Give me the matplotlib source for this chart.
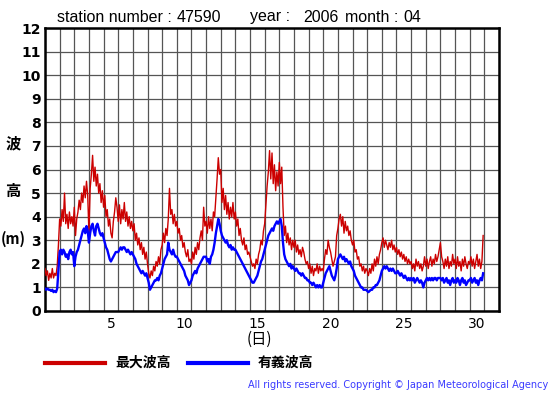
import numpy as np
import matplotlib
matplotlib.use("Agg")
import matplotlib.pyplot as plt

# ---- data (2-hourly values, April 2006, station 47590) ----
max_wave = [
    1.8, 1.5, 1.7, 1.3, 1.6, 1.4, 1.8, 1.4, 1.6, 1.5, 1.9, 2.8,
    3.9, 3.6, 4.3, 3.8, 5.0, 3.7, 4.1, 3.5, 4.2, 3.7, 4.0, 3.6,
    4.4, 3.2, 3.9, 4.2, 4.7, 4.3, 5.0, 4.6, 5.3, 4.8, 5.5, 4.9,
    3.3, 5.2, 5.8, 6.6, 5.5, 6.1, 5.3, 5.8, 5.0, 5.4, 4.6, 5.1,
    4.4, 4.9, 4.0, 4.3, 3.6, 3.9, 3.3, 3.1, 3.8, 4.2, 4.8, 4.4,
    3.8, 4.5, 3.7, 4.3, 3.9, 4.6, 3.8, 4.2, 3.6, 4.0, 3.5, 3.8,
    3.4, 3.7, 3.0, 3.3, 2.8, 3.1, 2.6, 2.9, 2.4, 2.7, 2.2, 2.5,
    2.0, 1.6, 1.4, 1.7, 1.5, 1.9, 1.7, 2.1, 1.9, 2.3, 2.0, 2.6,
    2.8, 3.3, 2.9, 3.5, 3.2, 3.9, 5.2, 4.1, 4.3, 3.7, 4.1, 3.6,
    3.8, 3.3, 3.5, 3.0, 3.2, 2.7, 2.9, 2.5, 2.3, 2.6, 2.1, 2.2,
    2.0, 2.5, 2.2, 2.7, 2.4, 2.9, 2.6, 3.1, 3.4, 3.0, 4.4, 3.6,
    3.8, 3.3, 4.0, 3.5, 3.9, 3.4, 4.2, 4.0, 4.8, 5.6, 6.5, 5.8,
    6.0, 4.6, 5.2, 4.3, 4.9, 4.1, 4.6, 3.9, 4.4, 4.0, 4.6, 3.9,
    4.2, 3.6, 3.9, 3.2, 3.5, 3.0, 2.8, 3.1, 2.6, 2.8, 2.4, 2.5,
    2.3, 2.1, 1.9, 2.0, 1.8, 2.2, 2.0, 2.4, 2.6, 3.0, 2.8, 3.4,
    3.7, 4.5, 5.3, 5.9, 6.8, 5.6, 6.7, 5.4, 6.2, 5.1, 5.9, 5.3,
    6.3, 5.4, 6.1, 4.4, 3.2, 3.6, 2.9, 3.3, 2.8, 3.1, 2.6, 3.0,
    2.7, 3.0, 2.5, 2.8, 2.4, 2.6, 2.3, 2.7, 2.5, 2.2, 2.0, 2.1,
    1.8, 2.0, 1.6, 1.9, 1.5, 1.8, 1.7, 2.0, 1.6, 1.9, 1.7, 1.8,
    1.7, 2.2, 2.6, 2.4, 3.0, 2.7, 2.5, 2.2, 1.9, 2.1, 2.3, 3.2,
    3.5, 3.9, 4.1, 3.6, 4.0, 3.3, 3.8, 3.4, 3.6, 3.2, 3.4, 3.0,
    2.8, 3.0, 2.5, 2.6, 2.2, 2.3, 1.9, 2.0, 1.7, 1.9, 1.6, 1.8,
    1.7, 1.5, 1.8, 1.6, 2.0, 1.7, 2.2, 1.9, 2.3, 2.0, 2.4, 2.6,
    2.9, 3.1, 2.7, 3.0, 2.8, 2.6, 2.9, 2.7, 3.0, 2.6, 2.8, 2.5,
    2.7, 2.4, 2.6, 2.3, 2.5, 2.2, 2.4, 2.1, 2.3, 2.0, 2.2, 2.0,
    2.1, 1.8, 2.0, 1.7, 2.2, 1.9, 2.1, 1.8, 2.0, 1.7, 1.9, 2.3,
    1.9, 2.2, 1.8, 2.1, 2.3, 1.9, 2.2, 2.0, 2.4, 2.1, 2.3, 2.6,
    2.9, 2.3, 2.1, 1.8, 2.2, 1.9, 2.3, 1.8, 2.1, 1.9, 2.4, 2.0,
    2.2, 1.8, 2.3, 1.9, 2.1, 1.7, 2.2, 1.9, 2.3, 2.0, 1.8, 2.1,
    2.0, 2.3, 1.9, 2.2, 1.8, 2.1, 2.4, 1.9, 2.2, 1.8, 2.1, 3.2,
]
sig_wave = [
    0.95, 0.9, 0.95, 0.9, 0.9, 0.85, 0.9, 0.8, 0.85, 0.8, 0.95, 1.7,
    2.5, 2.6, 2.4, 2.6, 2.5, 2.3, 2.4, 2.2, 2.5, 2.6, 2.4, 2.5,
    1.9, 2.3, 2.5, 2.6, 2.8, 3.0, 3.2, 3.4, 3.5, 3.3, 3.6, 3.4,
    2.9, 3.3, 3.6, 3.7, 3.4, 3.2, 3.6, 3.7, 3.5, 3.3, 3.2, 3.3,
    3.1, 2.9, 2.7, 2.6, 2.4, 2.2, 2.1, 2.2, 2.3, 2.4, 2.5, 2.5,
    2.5, 2.6, 2.7, 2.6, 2.7, 2.7, 2.6, 2.5, 2.6, 2.5, 2.4, 2.5,
    2.4, 2.3, 2.2, 2.0, 1.9, 1.8, 1.7, 1.6, 1.7, 1.6, 1.5, 1.6,
    1.4, 1.2, 0.9, 1.0, 1.1, 1.2, 1.3, 1.3, 1.4, 1.3, 1.5, 1.6,
    1.8, 2.0, 2.2, 2.3, 2.4, 2.9, 2.6, 2.5, 2.4, 2.6, 2.4, 2.3,
    2.3, 2.2, 2.1, 2.0, 1.9, 1.8, 1.7, 1.5, 1.4, 1.3, 1.1, 1.2,
    1.3, 1.5, 1.6, 1.7, 1.6, 1.8, 1.9, 2.0, 2.1, 2.2, 2.3, 2.3,
    2.3, 2.1, 2.2, 2.0, 2.3, 2.4, 2.6, 2.9, 3.3, 3.6, 3.9, 3.7,
    3.4, 3.2, 3.1, 3.0, 2.9, 3.0, 2.8, 2.7, 2.8, 2.6, 2.7, 2.6,
    2.6, 2.5, 2.4, 2.3, 2.2, 2.1, 2.0, 1.9, 1.8, 1.7, 1.6, 1.5,
    1.4, 1.3, 1.2, 1.2, 1.3, 1.4, 1.5, 1.7, 1.9, 2.1, 2.2, 2.4,
    2.6, 2.8, 3.0, 3.2, 3.3, 3.4, 3.5, 3.4, 3.6, 3.7, 3.8, 3.7,
    3.8, 3.9, 3.6, 2.9, 2.4, 2.2, 2.1, 2.0, 1.9, 2.0, 1.8, 1.9,
    1.8, 1.7, 1.8, 1.7, 1.6, 1.6, 1.5, 1.6, 1.5, 1.4, 1.4, 1.3,
    1.3, 1.2, 1.2, 1.1, 1.2, 1.1, 1.0, 1.1, 1.0, 1.1, 1.0, 1.0,
    1.2, 1.4, 1.6, 1.7, 1.8, 1.9, 1.7, 1.5, 1.4, 1.3, 1.5, 1.8,
    2.2, 2.3, 2.4, 2.3, 2.2, 2.3, 2.1, 2.2, 2.1, 2.0, 2.1, 1.9,
    1.8, 1.7, 1.5, 1.4, 1.3, 1.2, 1.1, 1.0, 1.0, 0.9, 0.9, 0.9,
    0.85, 0.8, 0.85, 0.9, 0.9, 1.0, 1.0, 1.1, 1.1, 1.2, 1.3, 1.5,
    1.7, 1.8, 1.9, 1.8, 1.9, 1.8, 1.7, 1.8, 1.7, 1.8, 1.7, 1.6,
    1.6, 1.7, 1.6, 1.5, 1.6, 1.5, 1.4, 1.5, 1.4, 1.3, 1.4, 1.3,
    1.4, 1.3, 1.4, 1.2, 1.3, 1.4, 1.3, 1.2, 1.3, 1.2, 1.0, 1.2,
    1.3, 1.4, 1.3, 1.4, 1.3, 1.4, 1.3, 1.4, 1.4, 1.3, 1.4, 1.4,
    1.4, 1.3, 1.4, 1.2, 1.3, 1.4, 1.2, 1.3, 1.1, 1.3, 1.4, 1.2,
    1.3, 1.2, 1.4, 1.3, 1.1, 1.3, 1.4, 1.2, 1.3, 1.1, 1.2, 1.3,
    1.3, 1.4, 1.2, 1.3, 1.4, 1.2, 1.3, 1.1, 1.3, 1.4, 1.3, 1.6,
]
steps_per_day = 12
day_labels = ["5", "10", "15", "20", "25", "30"]
y_labels = [str(v) for v in range(0, 13)]

W, H = 555, 395
fig = plt.figure(figsize=(W / 100, H / 100), dpi=100)
fig.patch.set_facecolor("white")

L, R, T, B = 45, 499, 28, 311
ax = fig.add_axes([L / W, 1 - B / H, (R - L) / W, (B - T) / H])

t = np.arange(len(max_wave)) / steps_per_day
ax.plot(t, max_wave, color="#cc0000", lw=1.0, zorder=3)
ax.plot(t, sig_wave, color="#0000ff", lw=1.7, zorder=4)

ax.set_xlim(0, 31)
ax.set_ylim(0, 12)
ax.set_xticks(np.arange(0, 32))
ax.set_xticklabels([])
ax.set_xticks([int(d) - 0.5 for d in day_labels], minor=True)
ax.set_xticklabels(day_labels, minor=True, fontsize=10, family="DejaVu Sans")
ax.set_yticks(np.arange(0, 13))
ax.set_yticklabels(y_labels, fontsize=10, fontweight="bold", family="DejaVu Sans")
ax.tick_params(axis="both", which="both", length=0)
ax.tick_params(axis="x", which="minor", pad=4)
ax.tick_params(axis="y", pad=3)
ax.grid(True, which="major", color="#555555", lw=0.9)
ax.set_axisbelow(True)
for s in ax.spines.values():
    s.set_linewidth(1.8)
    s.set_color("black")

def px(x, y):
    return x / W, 1 - y / H

cjk = ["Noto Sans CJK JP", "DejaVu Sans"]
sans = ["Liberation Sans", "DejaVu Sans"]

fs_t = 11.5
fig.text(*px(57, 17), "station number :", fontsize=fs_t, family=sans, va="center", ha="left")
fig.text(*px(177, 17), "47590", fontsize=fs_t, family=sans, va="center", ha="left")
fig.text(*px(250, 17), "year :", fontsize=fs_t, family=sans, va="center", ha="left")
fig.text(*px(303, 17), "2006", fontsize=fs_t, family=sans, va="center", ha="left")
fig.text(*px(345, 17), "month :", fontsize=fs_t, family=sans, va="center", ha="left")
fig.text(*px(403, 17), "04", fontsize=fs_t, family=sans, va="center", ha="left")

fig.text(*px(13, 143), "波", fontsize=11, family=cjk, fontweight="bold", va="center", ha="center")
fig.text(*px(13, 191), "高", fontsize=11, family=cjk, fontweight="bold", va="center", ha="center")
fig.text(*px(13, 239), "(m)", fontsize=10.5, family=cjk, fontweight="bold", va="center", ha="center")

fig.text(*px(259, 339), "(日)", fontsize=11, family=cjk, va="center", ha="center")

fig.add_artist(plt.Line2D([45 / W, 105 / W], [1 - 363 / H] * 2, color="#cc0000", lw=3))
fig.text(*px(115, 363), "最大波高", fontsize=10, family=cjk, fontweight="bold", va="center", ha="left")
fig.add_artist(plt.Line2D([188 / W, 248 / W], [1 - 363 / H] * 2, color="#0000ff", lw=3))
fig.text(*px(258, 363), "有義波高", fontsize=10, family=cjk, fontweight="bold", va="center", ha="left")

fig.text(*px(548, 385), "All rights reserved. Copyright © Japan Meteorological Agency",
         fontsize=7, family="DejaVu Sans", color="#3a3aff", va="center", ha="right")

fig.savefig("out.png", dpi=100)
